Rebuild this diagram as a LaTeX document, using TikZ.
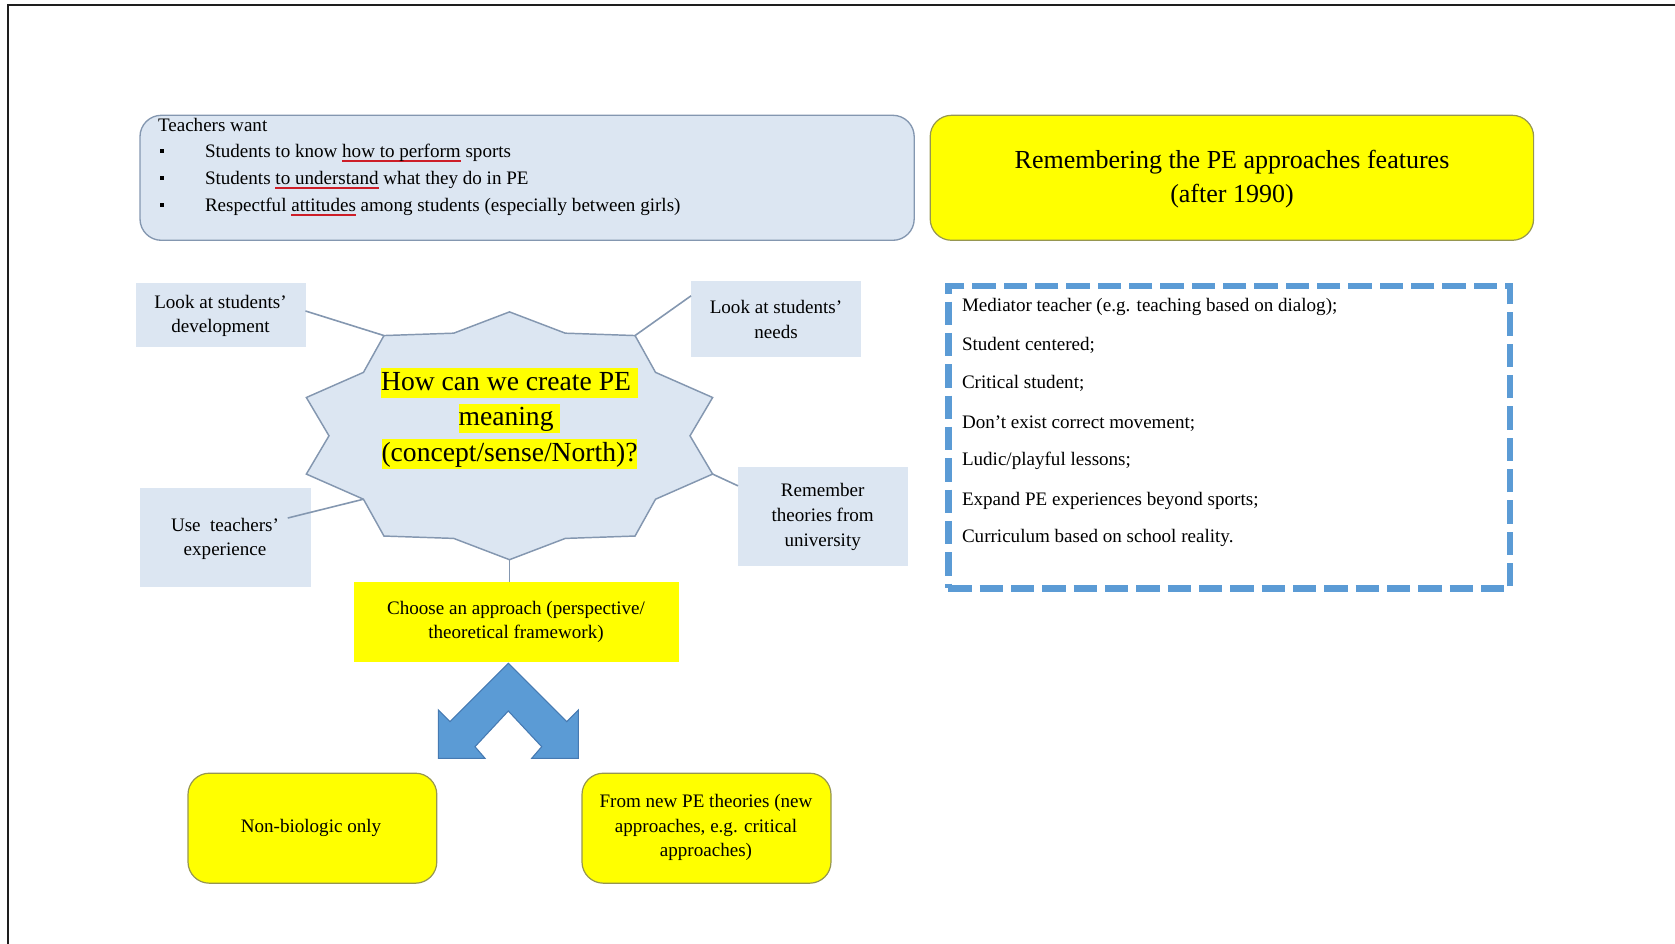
\documentclass[tikz,border=0pt]{standalone}
\usepackage{fontspec}
\setmainfont{Liberation Serif}
\usetikzlibrary{calc,fit}

\definecolor{paleblue}{RGB}{220,230,242}
\definecolor{edgeblue}{RGB}{132,151,176}
\definecolor{hiyellow}{RGB}{255,255,0}
\definecolor{yedge}{RGB}{150,150,80}
\definecolor{dashblue}{RGB}{91,155,213}
\definecolor{arrowedge}{RGB}{70,122,178}
\definecolor{ulred}{RGB}{205,30,40}
\definecolor{framec}{RGB}{30,30,30}

% red underline for the key phrases
\newsavebox\ulbox
\newcommand\redul[1]{\sbox\ulbox{#1}\rlap{\textcolor{ulred}{\rule[-3.4pt]{\wd\ulbox}{1.3pt}}}\usebox\ulbox}
% yellow text highlight for one line
\newcommand\hlline[1]{{\setlength\fboxsep{0pt}\colorbox{hiyellow}{\rule[-5.5pt]{0pt}{22pt}#1}}}
\newcommand\bodyfont{\fontsize{14.3}{18.5}\selectfont}
\newcommand\titlefont{\fontsize{19.5}{25.6}\selectfont}
\newcommand\starfont{\fontsize{20.7}{26.6}\selectfont}

\begin{document}
\begin{tikzpicture}[x=0.75pt, y=-0.75pt,
  every node/.style={inner sep=0pt, outer sep=0pt},
  txt/.style={font=\bodyfont, text=black},
  ctext/.style={txt, align=center},
  sidebox/.style={fill=paleblue},
  ybox/.style={fill=hiyellow},
  yround/.style={ybox, draw=yedge, line width=0.9pt, rounded corners=16pt},
  conn/.style={draw=edgeblue, line width=1.2pt},
  bulletmark/.style={fill=black, minimum width=3pt, minimum height=3.6pt},
  lineleft/.style={txt, anchor=base west},
  starshape/.style={fill=paleblue, draw=edgeblue, line width=1.1pt, line join=miter}]

\useasboundingbox (0,0) rectangle (1675,944);

% page frame
\draw[framec, line width=1.5pt] (8,944) -- (8,5.5) -- (1675,5.5);

% top left: what teachers want
\node[fill=paleblue, draw=edgeblue, line width=1pt, rounded corners=16pt,
      fit={(140,115.3) (914.2,240.3)}] (tbox) {};
\node[lineleft] (tw) at (158,131.5) {Teachers want};
\node[bulletmark] (b1) at (162,151) {};
\node[bulletmark] (b2) at (162,178) {};
\node[bulletmark] (b3) at (162,205) {};
\node[lineleft] (t1) at (205,157.5) {Students to know \redul{how to perform} sports};
\node[lineleft] (t2) at (205,184.5) {Students \redul{to understand} what they do in PE};
\node[lineleft] (t3) at (205,211.5) {Respectful \redul{attitudes} among students (especially between girls)};

% top right title
\node[yround, fit={(930.2,115.3) (1533.6,240.3)}] (ttl) {};
\node[ctext, font=\titlefont] (ttltxt) at (1232,179.5)
  {Remembering the PE approaches features\\(after 1990)};

% dashed list of features
\node[draw=dashblue, line width=4.8pt, dash pattern=on 17.5pt off 6pt,
      fit={(948.4,286.2) (1510.2,588.5)}] (feat) {};
\node[lineleft] (f1) at (962,312) {Mediator teacher (e.g. teaching based on dialog);};
\node[lineleft] (f2) at (962,351) {Student centered;};
\node[lineleft] (f3) at (962,389) {Critical student;};
\node[lineleft] (f4) at (962,429) {Don’t exist correct movement;};
\node[lineleft] (f5) at (962,466) {Ludic/playful lessons;};
\node[lineleft] (f6) at (962,506) {Expand PE experiences beyond sports;};
\node[lineleft] (f7) at (962,543) {Curriculum based on school reality.};

% ten-point star with the central question
\def\scx{509.5}
\def\scy{435.8}
\foreach \i in {0,...,9}{
  \coordinate (so\i) at ({\scx+213.6*cos(90+36*\i)}, {\scy-123.9*sin(90+36*\i)});
  \coordinate (si\i) at ({\scx+180.5*cos(108+36*\i)}, {\scy-107.9*sin(108+36*\i)});
}
\draw[starshape] (so0) -- (si0) \foreach \i in {1,...,9}{ -- (so\i) -- (si\i) } -- cycle;
\node[font=\starfont, align=center, text=black] (q) at (509.5,418.5)
  {\hlline{How can we create PE }\\\hlline{meaning }\\\hlline{(concept/sense/North)?}};

% surrounding prompts
\node[sidebox, fit={(135.6,283) (305.5,347)}] (lsd) {};
\node[ctext] (lsdtxt) at (220.5,316) {Look at students’\\development};
\node[sidebox, fit={(691,281) (861,356.7)}] (lsn) {};
\node[ctext] (lsntxt) at (776,319.5) {Look at students’\\needs};
\node[sidebox, fit={(140,488) (310.8,587.4)}] (ute) {};
\node[ctext] (utetxt) at (225,539) {Use~ teachers’\\experience};
\node[sidebox, fit={(738,466.7) (907.8,566)}] (rtu) {};
\node[ctext] (rtutxt) at (822.7,517) {Remember\\theories from\\university};

\draw[conn] ($(lsd.east)+(0,-4)$) -- (so1);
\draw[conn] (so9) -- ($(lsn.west)+(0,-23)$);
\draw[conn] (so7) -- ($(rtu.west)+(0,-30.5)$);
\draw[conn] ($(ute.east)+(-23,-19.7)$) -- (si3);

% choice of approach
\node[ybox, fit={(353.5,582) (679.3,662.2)}] (cho) {};
\node[ctext] (chotxt) at (516,622) {Choose an approach (perspective/\\theoretical framework)};
\draw[conn] (so5) -- (so5 |- cho.north);

% split arrow
\draw[fill=dashblue, draw=arrowedge, line width=0.8pt, line join=miter]
  (508.3,663.3) -- (566.7,721.7) -- (578.3,710) -- (578.3,758.3) -- (531.7,758.3)
  -- (541.7,746.7) -- (508.3,711) -- (475,746.7) -- (485,758.3) -- (438.3,758.3)
  -- (438.3,710) -- (450,721.7) -- cycle;

% the two options
\node[yround, fit={(188,773.2) (436.8,883.2)}] (nbo) {};
\node[ctext] (nbotxt) at (311,828) {Non-biologic only};
\node[yround, fit={(582,773.2) (831,883.2)}] (fnp) {};
\node[ctext] (fnptxt) at (706,827.5)
  {From new PE theories (new\\approaches, e.g. critical\\approaches)};
\end{tikzpicture}
\end{document}
